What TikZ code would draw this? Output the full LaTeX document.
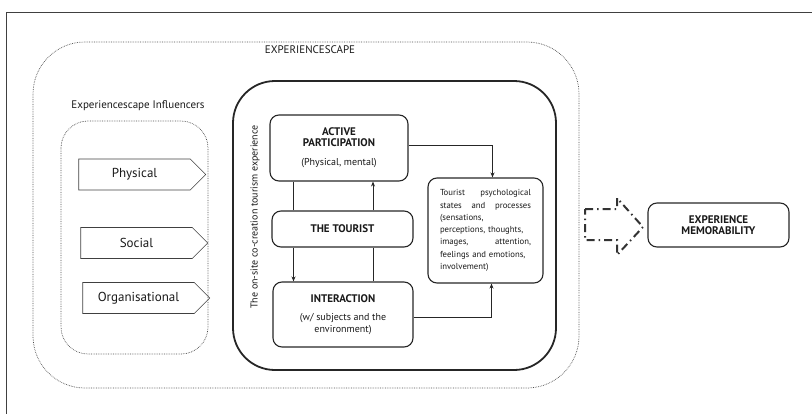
\documentclass[tikz,border=0pt]{standalone}
\usepackage{fontspec}
\setmainfont{PT Sans}
\usetikzlibrary{arrows.meta, calc, shapes.symbols}

\begin{document}
\begin{tikzpicture}[x=1pt, y=-1pt, >={Stealth[length=5pt, width=4pt]}, line width=0.9pt, draw=black!85,
  every node/.style={font=\fontsize{10}{12}\selectfont, text=black!90},
  scapebox/.style={draw=black!70, densely dotted, line width=0.7pt},
  factor/.style={draw=black!75, line width=0.6pt, signal, signal to=east, minimum width=127pt, minimum height=31pt, inner sep=0pt, font=\fontsize{13}{15}\selectfont},
  stagebox/.style={draw, rounded corners=9pt, line width=1.1pt, align=center, inner sep=0pt},
  bigarrow/.style={line width=2pt, draw=black!80, dash pattern=on 8pt off 4pt on 1.5pt off 4pt}]
  \useasboundingbox (0,0) rectangle (812,413);
  % frame and the two dotted scapes
  \draw[black!75, line width=1pt] (6.5,12) rectangle (830,430);
  \draw[scapebox, rounded corners=52pt] (33,42) rectangle (579,388);
  \node (scape) at (310,50) {\fontsize{11}{13}\selectfont EXPERIENCESCAPE};
  \draw[scapebox, rounded corners=27pt] (61,121) rectangle (208,354);
  \node (influencers) at (138,106) {\fontsize{11}{13}\selectfont Experiencescape Influencers};
  \node[factor] (physical) at (134.5,174.5) {Physical\hspace{8pt}};
  \node[factor] (social) at (136.5,243) {Social\hspace{8pt}};
  \node[factor] (organisational) at (138.5,298) {Organisational\hspace{10pt}};
  % co-creation experience
  \draw[line width=1.8pt, rounded corners=42pt] (233,81) rectangle (556,370);
  \node[rotate=90] (cocreation) at (255,217) {The on-site co-creation tourism experience};
  \node[stagebox, minimum width=138pt, minimum height=66pt] (active) at (339,148)
    {\textbf{\fontsize{11}{13}\selectfont ACTIVE}\\[-1pt]\textbf{\fontsize{11}{13}\selectfont PARTICIPATION}\\[7pt](Physical, mental)};
  \node[stagebox, minimum width=141pt, minimum height=36pt] (tourist) at (342.5,229)
    {\textbf{\fontsize{11}{13}\selectfont THE TOURIST}};
  \node[stagebox, minimum width=140pt, minimum height=65pt] (interaction) at (343,314.5)
    {\textbf{\fontsize{11}{13}\selectfont INTERACTION}\\[6pt](w/ subjects and the\\environment)};
  \node[stagebox, minimum width=115pt, minimum height=105pt, align=left, text width=91pt, font=\fontsize{8.7}{12.3}\selectfont] (psych) at (485.5,230.5)
    {Tourist\hfill psychological\\states\hfill and\hfill processes\\(sensations,\\perceptions, thoughts,\\images,\hfill attention,\\feelings and emotions,\\involvement)};
  \draw ([xshift=-49pt]tourist.north) -- ([xshift=-49pt]tourist.north |- active.south);
  \draw[->] ([xshift=30.5pt]tourist.north) -- ([xshift=30.5pt]tourist.north |- active.south);
  \draw[->] ([xshift=-49pt]tourist.south) -- ([xshift=-49pt]tourist.south |- interaction.north);
  \draw ([xshift=30.5pt]tourist.south) -- ([xshift=30.5pt]tourist.south |- interaction.north);
  \draw[->] ([yshift=3pt]active.east) -| ([xshift=7pt]psych.north);
  \draw[->] ([yshift=-2.5pt]interaction.east) -| ([xshift=6pt]psych.south);
  % outcome
  \draw[bigarrow] (585,209) -- (617,209) -- (617,198) -- (643,227) -- (617,255) -- (617,240) -- (585,240) -- cycle;
  \node[stagebox, minimum width=141pt, minimum height=44pt] (memorability) at (718.5,225)
    {\textbf{\fontsize{11}{13}\selectfont EXPERIENCE}\\[-1pt]\textbf{\fontsize{11}{13}\selectfont MEMORABILITY}};
\end{tikzpicture}
\end{document}
